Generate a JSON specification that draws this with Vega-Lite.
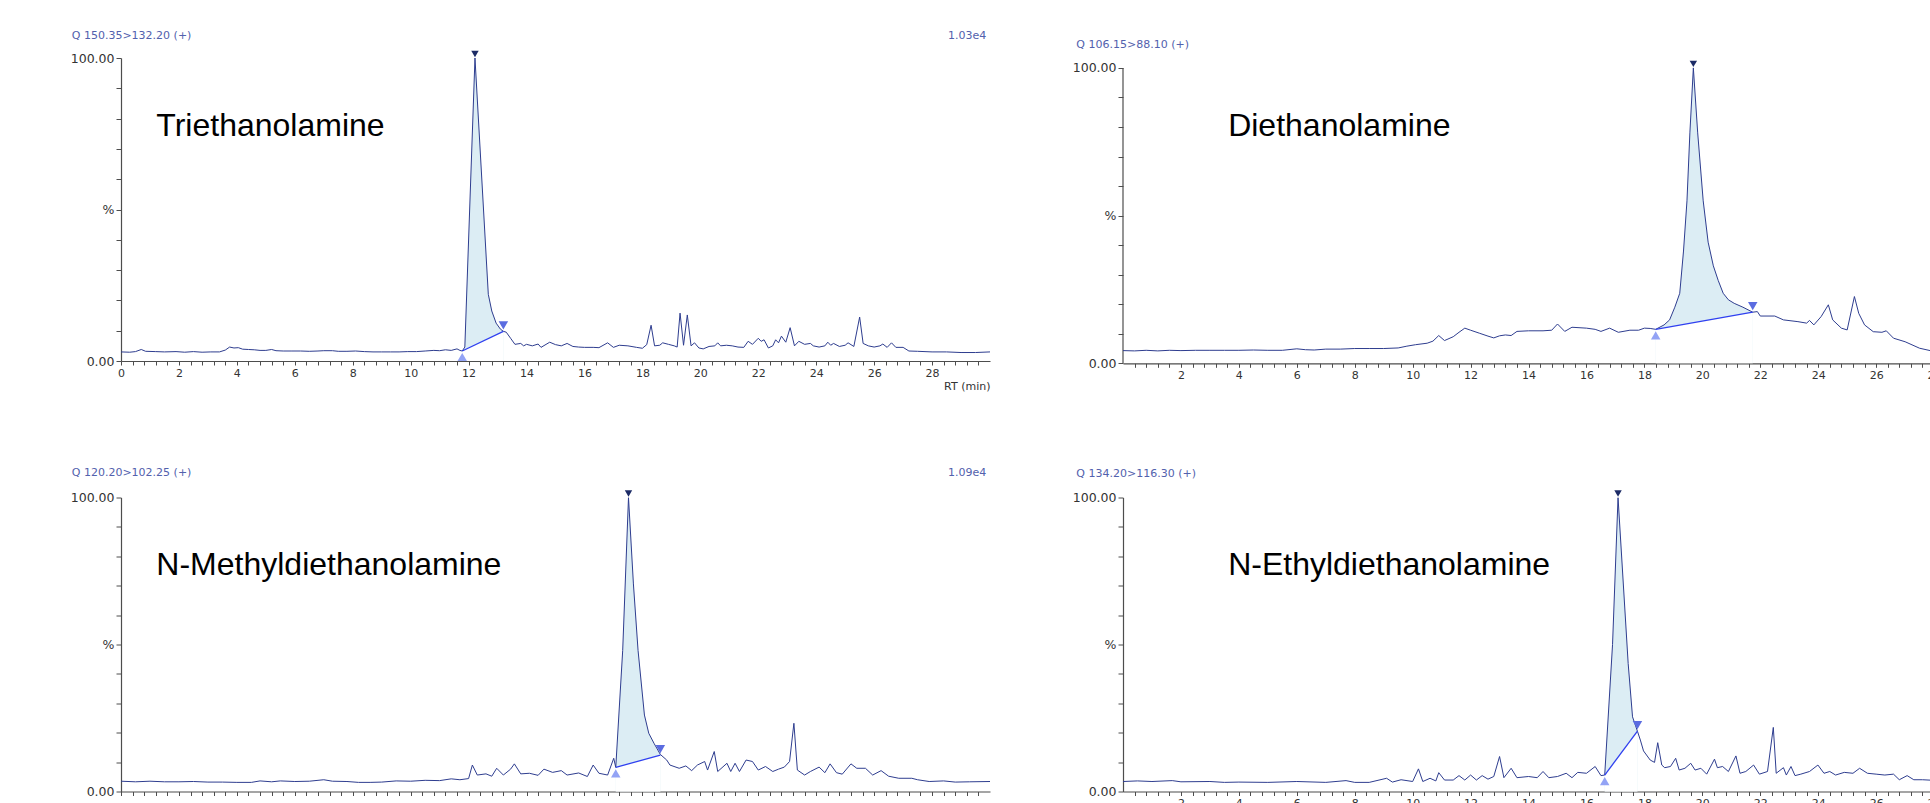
{
  "$schema": "https://vega.github.io/schema/vega-lite/v6.json",
  "background": "white",
  "padding": {"left": 70, "top": 29, "right": 0, "bottom": 0},
  "columns": 2,
  "bounds": "flush",
  "spacing": {"row": 133.5, "column": 133},
  "config": {
    "view": {"stroke": null},
    "font": "DejaVu Sans",
    "axis": {"grid": false, "domainColor": "#4d4d4d", "tickColor": "#4d4d4d", "domainWidth": 1.2, "tickWidth": 1, "labelFont": "DejaVu Sans", "labelFontSize": 11, "labelColor": "#333333", "titleFont": "DejaVu Sans", "titleFontSize": 11, "titleFontWeight": "normal", "titleColor": "#333333", "labelOverlap": false, "labelFlush": false, "zindex": 1, "tickCount": 200},
    "axisX": {"tickSize": 4, "labelPadding": 2},
    "axisY": {"tickSize": 5, "labelPadding": 2, "labelFontSize": 12.5}
  },
  "datasets": {
    "tea": [
      {"rt":0,"pct":3.0},{"rt":0.3,"pct":2.9},{"rt":0.5,"pct":3.1},{"rt":0.7,"pct":3.8},{"rt":0.85,"pct":3.2},{"rt":1.2,"pct":3.1},{"rt":1.5,"pct":3.0},{"rt":1.9,"pct":3.1},{"rt":2.2,"pct":2.9},{"rt":2.5,"pct":3.1},{"rt":2.8,"pct":2.9},{"rt":3.1,"pct":3.0},{"rt":3.4,"pct":3.0},{"rt":3.6,"pct":3.6},{"rt":3.75,"pct":4.6},{"rt":3.9,"pct":4.3},{"rt":4.05,"pct":4.4},{"rt":4.2,"pct":3.9},{"rt":4.4,"pct":3.8},{"rt":4.6,"pct":3.7},{"rt":4.8,"pct":3.5},{"rt":5.0,"pct":3.5},{"rt":5.2,"pct":3.8},{"rt":5.35,"pct":3.4},{"rt":5.6,"pct":3.3},{"rt":5.9,"pct":3.3},{"rt":6.2,"pct":3.3},{"rt":6.5,"pct":3.2},{"rt":6.8,"pct":3.3},{"rt":7.0,"pct":3.4},{"rt":7.3,"pct":3.4},{"rt":7.5,"pct":3.2},{"rt":7.8,"pct":3.2},{"rt":8.1,"pct":3.3},{"rt":8.4,"pct":3.1},{"rt":8.7,"pct":3.0},{"rt":9.0,"pct":3.0},{"rt":9.3,"pct":3.0},{"rt":9.6,"pct":3.0},{"rt":9.9,"pct":3.1},{"rt":10.2,"pct":3.1},{"rt":10.5,"pct":3.3},{"rt":10.8,"pct":3.5},{"rt":11.0,"pct":3.4},{"rt":11.2,"pct":3.7},{"rt":11.4,"pct":3.5},{"rt":11.6,"pct":4.0},{"rt":11.7,"pct":3.5},{"rt":11.78,"pct":3.3},{"rt":11.87,"pct":4.6},{"rt":12.22,"pct":100},{"rt":12.68,"pct":22},{"rt":12.8,"pct":16.5},{"rt":12.95,"pct":12.5},{"rt":13.1,"pct":10.5},{"rt":13.2,"pct":9.8},
      {"rt":13.3,"pct":9.5},{"rt":13.45,"pct":7.5},{"rt":13.6,"pct":5.5},{"rt":13.8,"pct":5.8},{"rt":13.9,"pct":5.0},{"rt":14.0,"pct":5.5},{"rt":14.2,"pct":5.0},{"rt":14.4,"pct":5.6},{"rt":14.5,"pct":4.5},{"rt":14.8,"pct":6.2},{"rt":15.0,"pct":5.4},{"rt":15.2,"pct":5.0},{"rt":15.4,"pct":5.8},{"rt":15.6,"pct":4.8},{"rt":15.8,"pct":4.6},{"rt":16.0,"pct":4.5},{"rt":16.3,"pct":4.5},{"rt":16.5,"pct":4.4},{"rt":16.8,"pct":6.0},{"rt":17.0,"pct":4.5},{"rt":17.2,"pct":5.2},{"rt":17.5,"pct":5.0},{"rt":17.8,"pct":4.5},{"rt":18.0,"pct":4.2},{"rt":18.15,"pct":5.4},{"rt":18.3,"pct":11.8},{"rt":18.42,"pct":5.0},{"rt":18.6,"pct":5.2},{"rt":18.7,"pct":6.0},{"rt":18.9,"pct":5.5},{"rt":19.1,"pct":5.0},{"rt":19.2,"pct":4.6},{"rt":19.3,"pct":15.8},{"rt":19.42,"pct":5.2},{"rt":19.55,"pct":15.2},{"rt":19.68,"pct":5.0},{"rt":19.8,"pct":6.0},{"rt":19.95,"pct":4.3},{"rt":20.1,"pct":4.0},{"rt":20.3,"pct":4.8},{"rt":20.5,"pct":5.0},{"rt":20.6,"pct":6.0},{"rt":20.7,"pct":5.0},{"rt":20.9,"pct":5.2},{"rt":21.1,"pct":5.0},{"rt":21.3,"pct":4.6},{"rt":21.5,"pct":4.5},{"rt":21.65,"pct":6.5},{"rt":21.8,"pct":5.5},{"rt":22.0,"pct":7.5},{"rt":22.1,"pct":6.5},{"rt":22.2,"pct":7.0},{"rt":22.35,"pct":4.3},{"rt":22.5,"pct":5.0},{"rt":22.6,"pct":7.0},{"rt":22.7,"pct":6.0},{"rt":22.8,"pct":8.2},{"rt":22.95,"pct":6.2},{"rt":23.1,"pct":11.0},{"rt":23.25,"pct":5.0},{"rt":23.4,"pct":6.5},{"rt":23.6,"pct":5.5},{"rt":23.8,"pct":5.8},{"rt":23.9,"pct":5.0},{"rt":24.1,"pct":4.6},{"rt":24.3,"pct":5.0},{"rt":24.4,"pct":6.2},{"rt":24.5,"pct":5.2},{"rt":24.6,"pct":5.8},{"rt":24.8,"pct":4.8},{"rt":25.0,"pct":5.2},{"rt":25.1,"pct":6.0},{"rt":25.3,"pct":4.8},{"rt":25.5,"pct":14.5},{"rt":25.62,"pct":5.8},{"rt":25.8,"pct":5.0},{"rt":26.0,"pct":4.6},{"rt":26.2,"pct":5.0},{"rt":26.3,"pct":5.6},{"rt":26.45,"pct":4.5},{"rt":26.6,"pct":6.0},{"rt":26.75,"pct":4.5},{"rt":27.0,"pct":4.5},{"rt":27.2,"pct":3.3},{"rt":27.5,"pct":3.2},{"rt":28.0,"pct":3.0},{"rt":28.5,"pct":3.0},{"rt":29.0,"pct":2.8},{"rt":29.5,"pct":2.8},{"rt":30.0,"pct":3.0}
    ],
    "tea_ev": [{"kind":"start","rt":11.78,"pct":3.3},{"kind":"apex","rt":12.22,"pct":100},{"kind":"end","rt":13.2,"pct":9.8}],
    "dea": [
      {"rt":0,"pct":4.3},{"rt":0.4,"pct":4.2},{"rt":0.8,"pct":4.4},{"rt":1.2,"pct":4.2},{"rt":1.6,"pct":4.4},{"rt":2.0,"pct":4.3},{"rt":2.5,"pct":4.4},{"rt":3.0,"pct":4.4},{"rt":3.5,"pct":4.4},{"rt":4.0,"pct":4.4},{"rt":4.5,"pct":4.5},{"rt":5.0,"pct":4.4},{"rt":5.5,"pct":4.4},{"rt":6.0,"pct":4.9},{"rt":6.3,"pct":4.6},{"rt":6.6,"pct":4.5},{"rt":7.0,"pct":4.8},{"rt":7.5,"pct":4.8},{"rt":8.0,"pct":5.0},{"rt":8.5,"pct":5.0},{"rt":9.0,"pct":5.0},{"rt":9.5,"pct":5.2},{"rt":9.8,"pct":5.8},{"rt":10.1,"pct":6.3},{"rt":10.5,"pct":6.8},{"rt":10.7,"pct":7.5},{"rt":10.9,"pct":9.4},{"rt":11.1,"pct":7.7},{"rt":11.4,"pct":9.0},{"rt":11.6,"pct":10.5},{"rt":11.8,"pct":11.9},{"rt":12.0,"pct":11.2},{"rt":12.3,"pct":10.2},{"rt":12.6,"pct":9.2},{"rt":12.8,"pct":8.6},{"rt":13.0,"pct":9.3},{"rt":13.2,"pct":9.6},{"rt":13.4,"pct":9.4},{"rt":13.6,"pct":10.8},{"rt":14.0,"pct":11.0},{"rt":14.5,"pct":11.0},{"rt":14.8,"pct":11.2},{"rt":15.0,"pct":13.3},{"rt":15.25,"pct":10.8},{"rt":15.5,"pct":12.2},{"rt":16.0,"pct":11.9},{"rt":16.3,"pct":11.5},{"rt":16.5,"pct":10.8},{"rt":16.8,"pct":11.9},{"rt":17.1,"pct":10.5},{"rt":17.5,"pct":11.2},{"rt":17.8,"pct":11.2},{"rt":18.0,"pct":11.9},{"rt":18.2,"pct":11.8},{"rt":18.39,"pct":11.5},{"rt":18.68,"pct":13.0},{"rt":18.87,"pct":14.7},{"rt":19.05,"pct":19.0},{"rt":19.22,"pct":23.7},{"rt":19.35,"pct":38},{"rt":19.47,"pct":55},{"rt":19.57,"pct":78},{"rt":19.69,"pct":100},{"rt":19.84,"pct":78},{"rt":20.03,"pct":55},{"rt":20.2,"pct":41},{"rt":20.38,"pct":33},{"rt":20.55,"pct":28},{"rt":20.72,"pct":23.7},{"rt":20.9,"pct":21.5},{"rt":21.1,"pct":20.3},{"rt":21.4,"pct":19.0},{"rt":21.74,"pct":17.3},{"rt":21.9,"pct":17.5},{"rt":22.0,"pct":16.0},{"rt":22.5,"pct":16.0},{"rt":22.8,"pct":14.7},{"rt":23.3,"pct":14.1},{"rt":23.6,"pct":13.6},{"rt":23.7,"pct":14.5},{"rt":23.85,"pct":13.0},{"rt":24.1,"pct":15.8},{"rt":24.35,"pct":19.8},{"rt":24.5,"pct":14.7},{"rt":24.8,"pct":11.9},{"rt":25.0,"pct":11.3},{"rt":25.25,"pct":22.6},{"rt":25.4,"pct":16.9},{"rt":25.6,"pct":13.0},{"rt":25.9,"pct":10.7},{"rt":26.2,"pct":10.5},{"rt":26.35,"pct":11.0},{"rt":26.6,"pct":8.5},{"rt":27.0,"pct":7.3},{"rt":27.5,"pct":5.1},{"rt":28.0,"pct":4.0},{"rt":28.5,"pct":3.5},{"rt":29.0,"pct":3.2},{"rt":30.0,"pct":3.0}
    ],
    "dea_ev": [{"kind":"start","rt":18.39,"pct":11.5},{"kind":"apex","rt":19.69,"pct":100},{"kind":"end","rt":21.74,"pct":17.3}],
    "mdea": [
      {"rt":0,"pct":3.5},{"rt":0.5,"pct":3.3},{"rt":1.0,"pct":3.5},{"rt":1.5,"pct":3.3},{"rt":2.0,"pct":3.3},{"rt":2.5,"pct":3.4},{"rt":3.0,"pct":3.2},{"rt":3.5,"pct":3.2},{"rt":4.0,"pct":3.1},{"rt":4.5,"pct":3.1},{"rt":4.8,"pct":3.6},{"rt":5.2,"pct":3.3},{"rt":5.5,"pct":3.6},{"rt":6.0,"pct":3.4},{"rt":6.5,"pct":3.5},{"rt":7.0,"pct":4.0},{"rt":7.3,"pct":3.5},{"rt":7.8,"pct":3.4},{"rt":8.2,"pct":3.1},{"rt":8.6,"pct":3.1},{"rt":9.0,"pct":3.2},{"rt":9.5,"pct":3.6},{"rt":10.0,"pct":3.5},{"rt":10.5,"pct":3.8},{"rt":11.0,"pct":3.7},{"rt":11.4,"pct":4.3},{"rt":11.7,"pct":4.0},{"rt":12.0,"pct":4.4},{"rt":12.13,"pct":9.0},{"rt":12.3,"pct":5.6},{"rt":12.6,"pct":6.0},{"rt":12.8,"pct":5.2},{"rt":12.97,"pct":7.9},{"rt":13.2,"pct":5.6},{"rt":13.45,"pct":7.6},{"rt":13.58,"pct":9.4},{"rt":13.8,"pct":6.0},{"rt":14.1,"pct":6.2},{"rt":14.4,"pct":5.5},{"rt":14.6,"pct":7.6},{"rt":14.9,"pct":6.5},{"rt":15.2,"pct":7.1},{"rt":15.4,"pct":5.6},{"rt":15.8,"pct":6.3},{"rt":16.1,"pct":5.1},{"rt":16.3,"pct":9.0},{"rt":16.5,"pct":6.2},{"rt":16.8,"pct":5.6},{"rt":17.01,"pct":11.3},{"rt":17.08,"pct":8.2},{"rt":17.32,"pct":48},{"rt":17.52,"pct":100},{"rt":17.69,"pct":70.6},{"rt":17.85,"pct":48},{"rt":18.07,"pct":26},{"rt":18.22,"pct":19.8},{"rt":18.4,"pct":16.4},{"rt":18.62,"pct":12.6},{"rt":18.84,"pct":10.7},{"rt":18.95,"pct":9.0},{"rt":19.27,"pct":7.9},{"rt":19.5,"pct":8.7},{"rt":19.7,"pct":7.1},{"rt":19.9,"pct":9.0},{"rt":20.15,"pct":10.2},{"rt":20.25,"pct":7.3},{"rt":20.48,"pct":13.6},{"rt":20.6,"pct":6.8},{"rt":20.92,"pct":9.6},{"rt":21.05,"pct":6.8},{"rt":21.2,"pct":9.6},{"rt":21.35,"pct":6.8},{"rt":21.58,"pct":10.7},{"rt":21.8,"pct":10.2},{"rt":22.0,"pct":7.3},{"rt":22.25,"pct":8.5},{"rt":22.5,"pct":6.8},{"rt":22.7,"pct":7.6},{"rt":22.9,"pct":8.3},{"rt":23.08,"pct":10.2},{"rt":23.23,"pct":23.2},{"rt":23.35,"pct":7.3},{"rt":23.6,"pct":5.6},{"rt":23.8,"pct":6.8},{"rt":24.1,"pct":8.3},{"rt":24.3,"pct":6.4},{"rt":24.48,"pct":9.4},{"rt":24.7,"pct":6.4},{"rt":24.9,"pct":5.9},{"rt":25.2,"pct":9.4},{"rt":25.4,"pct":7.9},{"rt":25.7,"pct":7.9},{"rt":25.95,"pct":5.6},{"rt":26.24,"pct":7.1},{"rt":26.5,"pct":5.2},{"rt":26.85,"pct":4.5},{"rt":27.3,"pct":4.5},{"rt":27.5,"pct":4.0},{"rt":27.9,"pct":3.4},{"rt":28.4,"pct":3.6},{"rt":28.8,"pct":3.2},{"rt":29.3,"pct":3.3},{"rt":30.0,"pct":3.4}
    ],
    "mdea_ev": [{"kind":"start","rt":17.08,"pct":8.2},{"kind":"apex","rt":17.52,"pct":100},{"kind":"end","rt":18.62,"pct":12.4}],
    "edea": [
      {"rt":0,"pct":3.4},{"rt":0.5,"pct":3.6},{"rt":1.0,"pct":3.4},{"rt":1.7,"pct":3.7},{"rt":2.0,"pct":3.3},{"rt":3.0,"pct":3.4},{"rt":3.5,"pct":3.1},{"rt":4.0,"pct":3.2},{"rt":5.0,"pct":3.1},{"rt":6.0,"pct":3.4},{"rt":7.0,"pct":3.1},{"rt":7.7,"pct":3.7},{"rt":8.0,"pct":3.1},{"rt":8.5,"pct":3.1},{"rt":9.1,"pct":4.5},{"rt":9.3,"pct":3.2},{"rt":9.6,"pct":4.0},{"rt":10.0,"pct":3.4},{"rt":10.2,"pct":7.7},{"rt":10.35,"pct":3.4},{"rt":10.6,"pct":4.5},{"rt":10.8,"pct":3.6},{"rt":10.9,"pct":6.4},{"rt":11.1,"pct":3.9},{"rt":11.4,"pct":3.9},{"rt":11.6,"pct":5.4},{"rt":11.8,"pct":3.9},{"rt":12.0,"pct":5.6},{"rt":12.2,"pct":3.9},{"rt":12.4,"pct":5.4},{"rt":12.6,"pct":4.2},{"rt":12.8,"pct":5.1},{"rt":13.0,"pct":11.9},{"rt":13.15,"pct":4.7},{"rt":13.4,"pct":7.9},{"rt":13.6,"pct":4.7},{"rt":14.0,"pct":5.1},{"rt":14.3,"pct":4.7},{"rt":14.5,"pct":6.8},{"rt":14.7,"pct":4.7},{"rt":15.0,"pct":5.1},{"rt":15.3,"pct":6.2},{"rt":15.5,"pct":4.7},{"rt":15.7,"pct":6.5},{"rt":16.0,"pct":6.2},{"rt":16.3,"pct":8.5},{"rt":16.5,"pct":5.4},{"rt":16.63,"pct":5.6},{"rt":16.9,"pct":50},{"rt":17.09,"pct":100},{"rt":17.44,"pct":43.5},{"rt":17.59,"pct":25.4},{"rt":17.76,"pct":20.5},{"rt":17.86,"pct":17.5},{"rt":17.97,"pct":13.8},{"rt":18.2,"pct":10.7},{"rt":18.35,"pct":9.9},{"rt":18.46,"pct":16.6},{"rt":18.6,"pct":9.0},{"rt":18.7,"pct":8.1},{"rt":18.9,"pct":8.5},{"rt":19.08,"pct":11.3},{"rt":19.2,"pct":7.3},{"rt":19.4,"pct":7.9},{"rt":19.6,"pct":9.6},{"rt":19.75,"pct":7.3},{"rt":19.95,"pct":7.9},{"rt":20.15,"pct":5.9},{"rt":20.42,"pct":11.0},{"rt":20.52,"pct":8.1},{"rt":20.7,"pct":8.5},{"rt":20.9,"pct":6.8},{"rt":21.16,"pct":12.1},{"rt":21.3,"pct":6.2},{"rt":21.5,"pct":6.8},{"rt":21.77,"pct":9.0},{"rt":21.97,"pct":5.9},{"rt":22.25,"pct":6.8},{"rt":22.45,"pct":21.8},{"rt":22.55,"pct":6.2},{"rt":22.8,"pct":8.1},{"rt":22.9,"pct":5.6},{"rt":23.06,"pct":8.5},{"rt":23.2,"pct":5.4},{"rt":23.4,"pct":5.9},{"rt":23.7,"pct":6.8},{"rt":23.99,"pct":9.0},{"rt":24.2,"pct":6.2},{"rt":24.4,"pct":6.8},{"rt":24.6,"pct":5.6},{"rt":24.9,"pct":6.5},{"rt":25.2,"pct":6.2},{"rt":25.43,"pct":7.9},{"rt":25.7,"pct":6.2},{"rt":26.0,"pct":5.9},{"rt":26.3,"pct":5.6},{"rt":26.6,"pct":5.9},{"rt":26.8,"pct":4.0},{"rt":27.07,"pct":5.4},{"rt":27.3,"pct":4.0},{"rt":27.6,"pct":4.0},{"rt":28.0,"pct":3.8},{"rt":29.0,"pct":3.6},{"rt":30.0,"pct":3.5}
    ],
    "edea_ev": [{"kind":"start","rt":16.63,"pct":5.6},{"kind":"apex","rt":17.09,"pct":100},{"kind":"end","rt":17.76,"pct":20.5}]
  },
  "concat": [
    {
      "width": 869, "height": 303,
      "layer": [
        {"data": {"name": "tea"}, "transform": [{"filter": "datum.rt >= 11.78 && datum.rt <= 13.2"}],
         "mark": {"type": "area", "color": "#dcedf4", "clip": true},
         "encoding": {
           "x": {"field": "rt", "type": "quantitative", "scale": {"domain": [0, 30], "nice": false, "zero": false},
                 "axis": {"title": "RT (min)", "titleAnchor": "end", "titlePadding": 2, "values": [0,0.4,0.8,1.2,1.6,2,2.4,2.8,3.2,3.6,4,4.4,4.8,5.2,5.6,6,6.4,6.8,7.2,7.6,8,8.4,8.8,9.2,9.6,10,10.4,10.8,11.2,11.6,12,12.4,12.8,13.2,13.6,14,14.4,14.8,15.2,15.6,16,16.4,16.8,17.2,17.6,18,18.4,18.8,19.2,19.6,20,20.4,20.8,21.2,21.6,22,22.4,22.8,23.2,23.6,24,24.4,24.8,25.2,25.6,26,26.4,26.8,27.2,27.6,28,28.4,28.8,29.2,29.6], "labelExpr": "datum.value % 2 == 0 ? format(datum.value, 'd') : ''"}},
           "y": {"field": "pct", "type": "quantitative", "scale": {"domain": [0, 100], "nice": false},
                 "axis": {"title": null, "values": [0,10,20,30,40,50,60,70,80,90,100], "labelExpr": "datum.value == 100 ? '100.00' : datum.value == 50 ? '%' : datum.value == 0 ? '0.00' : ''"}},
           "y2": {"datum": 0}
         }},
        {"data": {"name": "tea_ev"}, "transform": [{"filter": "datum.kind != 'apex'"}],
         "mark": {"type": "area", "color": "white"},
         "encoding": {"x": {"field": "rt", "type": "quantitative"}, "y": {"field": "pct", "type": "quantitative"}, "y2": {"datum": 0}}},
        {"data": {"name": "tea"}, "mark": {"type": "line", "color": "#2e3d8f", "strokeWidth": 1, "clip": true},
         "encoding": {"x": {"field": "rt", "type": "quantitative"}, "y": {"field": "pct", "type": "quantitative"}}},
        {"data": {"name": "tea_ev"}, "transform": [{"filter": "datum.kind != 'apex'"}],
         "mark": {"type": "line", "color": "#2f40f0", "strokeWidth": 1.3},
         "encoding": {"x": {"field": "rt", "type": "quantitative"}, "y": {"field": "pct", "type": "quantitative"}}},
        {"data": {"name": "tea_ev"}, "transform": [{"filter": "datum.kind == 'apex'"}],
         "mark": {"type": "point", "shape": "triangle-down", "filled": true, "color": "#1c2b66", "opacity": 1, "size": 55, "yOffset": -4},
         "encoding": {"x": {"field": "rt", "type": "quantitative"}, "y": {"field": "pct", "type": "quantitative"}}},
        {"data": {"name": "tea_ev"}, "transform": [{"filter": "datum.kind == 'start'"}],
         "mark": {"type": "point", "shape": "triangle-up", "filled": true, "color": "#93a3f5", "opacity": 1, "size": 90, "yOffset": 6},
         "encoding": {"x": {"field": "rt", "type": "quantitative"}, "y": {"field": "pct", "type": "quantitative"}}},
        {"data": {"name": "tea_ev"}, "transform": [{"filter": "datum.kind == 'end'"}],
         "mark": {"type": "point", "shape": "triangle-down", "filled": true, "color": "#5b6ce0", "opacity": 1, "size": 90, "yOffset": -6},
         "encoding": {"x": {"field": "rt", "type": "quantitative"}, "y": {"field": "pct", "type": "quantitative"}}},
        {"data": {"values": [{}]},
         "mark": {"type": "text", "text": "Triethanolamine", "align": "left", "baseline": "middle", "font": "Liberation Sans", "fontSize": 32, "color": "#000000"},
         "encoding": {"x": {"datum": 1.22}, "y": {"datum": 77.7}}},
        {"data": {"values": [{}]},
         "mark": {"type": "text", "text": "Q 150.35>132.20 (+)", "align": "left", "baseline": "middle", "font": "DejaVu Sans", "fontSize": 11, "color": "#5261ad"},
         "encoding": {"x": {"datum": -1.7}, "y": {"datum": 107.3}}},
        {"data": {"values": [{}]},
         "mark": {"type": "text", "text": "1.03e4", "align": "right", "baseline": "middle", "font": "DejaVu Sans", "fontSize": 11, "color": "#5261ad"},
         "encoding": {"x": {"datum": 29.87}, "y": {"datum": 107.3}}}
      ]
    },
    {
      "width": 869, "height": 305.3,
      "layer": [
        {"data": {"name": "dea"}, "transform": [{"filter": "datum.rt >= 18.39 && datum.rt <= 21.74"}],
         "mark": {"type": "area", "color": "#dcedf4", "clip": true},
         "encoding": {
           "x": {"field": "rt", "type": "quantitative", "scale": {"domain": [0, 30], "nice": false, "zero": false},
                 "axis": {"title": "RT (min)", "titleAnchor": "end", "titlePadding": 2, "values": [0.4,0.8,1.2,1.6,2,2.4,2.8,3.2,3.6,4,4.4,4.8,5.2,5.6,6,6.4,6.8,7.2,7.6,8,8.4,8.8,9.2,9.6,10,10.4,10.8,11.2,11.6,12,12.4,12.8,13.2,13.6,14,14.4,14.8,15.2,15.6,16,16.4,16.8,17.2,17.6,18,18.4,18.8,19.2,19.6,20,20.4,20.8,21.2,21.6,22,22.4,22.8,23.2,23.6,24,24.4,24.8,25.2,25.6,26,26.4,26.8,27.2,27.6,28,28.4,28.8,29.2,29.6], "labelExpr": "datum.value % 2 == 0 ? format(datum.value, 'd') : ''"}},
           "y": {"field": "pct", "type": "quantitative", "scale": {"domain": [0, 103.35], "nice": false},
                 "axis": {"title": null, "domain": false, "values": [0,10,20,30,40,50,60,70,80,90,100], "labelExpr": "datum.value == 100 ? '100.00' : datum.value == 50 ? '%' : datum.value == 0 ? '0.00' : ''"}},
           "y2": {"datum": 0}
         }},
        {"data": {"name": "dea_ev"}, "transform": [{"filter": "datum.kind != 'apex'"}],
         "mark": {"type": "area", "color": "white"},
         "encoding": {"x": {"field": "rt", "type": "quantitative"}, "y": {"field": "pct", "type": "quantitative"}, "y2": {"datum": 0}}},
        {"data": {"values": [{}]}, "mark": {"type": "rule", "color": "#4d4d4d", "strokeWidth": 1.2},
         "encoding": {"x": {"datum": 0}, "y": {"datum": 0}, "y2": {"datum": 100}}},
        {"data": {"name": "dea"}, "mark": {"type": "line", "color": "#2e3d8f", "strokeWidth": 1, "clip": true},
         "encoding": {"x": {"field": "rt", "type": "quantitative"}, "y": {"field": "pct", "type": "quantitative"}}},
        {"data": {"name": "dea_ev"}, "transform": [{"filter": "datum.kind != 'apex'"}],
         "mark": {"type": "line", "color": "#2f40f0", "strokeWidth": 1.3},
         "encoding": {"x": {"field": "rt", "type": "quantitative"}, "y": {"field": "pct", "type": "quantitative"}}},
        {"data": {"name": "dea_ev"}, "transform": [{"filter": "datum.kind == 'apex'"}],
         "mark": {"type": "point", "shape": "triangle-down", "filled": true, "color": "#1c2b66", "opacity": 1, "size": 55, "yOffset": -4},
         "encoding": {"x": {"field": "rt", "type": "quantitative"}, "y": {"field": "pct", "type": "quantitative"}}},
        {"data": {"name": "dea_ev"}, "transform": [{"filter": "datum.kind == 'start'"}],
         "mark": {"type": "point", "shape": "triangle-up", "filled": true, "color": "#93a3f5", "opacity": 1, "size": 90, "yOffset": 6},
         "encoding": {"x": {"field": "rt", "type": "quantitative"}, "y": {"field": "pct", "type": "quantitative"}}},
        {"data": {"name": "dea_ev"}, "transform": [{"filter": "datum.kind == 'end'"}],
         "mark": {"type": "point", "shape": "triangle-down", "filled": true, "color": "#5b6ce0", "opacity": 1, "size": 90, "yOffset": -6},
         "encoding": {"x": {"field": "rt", "type": "quantitative"}, "y": {"field": "pct", "type": "quantitative"}}},
        {"data": {"values": [{}]},
         "mark": {"type": "text", "text": "Diethanolamine", "align": "left", "baseline": "middle", "font": "Liberation Sans", "fontSize": 32, "color": "#000000"},
         "encoding": {"x": {"datum": 3.63}, "y": {"datum": 80.4}}},
        {"data": {"values": [{}]},
         "mark": {"type": "text", "text": "Q 106.15>88.10 (+)", "align": "left", "baseline": "middle", "font": "DejaVu Sans", "fontSize": 11, "color": "#5261ad"},
         "encoding": {"x": {"datum": -1.61}, "y": {"datum": 107.9}}}
      ]
    },
    {
      "width": 869, "height": 294,
      "layer": [
        {"data": {"name": "mdea"}, "transform": [{"filter": "datum.rt >= 17.08 && datum.rt <= 18.62"}],
         "mark": {"type": "area", "color": "#dcedf4", "clip": true},
         "encoding": {
           "x": {"field": "rt", "type": "quantitative", "scale": {"domain": [0, 30], "nice": false, "zero": false},
                 "axis": {"title": "RT (min)", "titleAnchor": "end", "titlePadding": 2, "labelPadding": 8, "values": [0,0.4,0.8,1.2,1.6,2,2.4,2.8,3.2,3.6,4,4.4,4.8,5.2,5.6,6,6.4,6.8,7.2,7.6,8,8.4,8.8,9.2,9.6,10,10.4,10.8,11.2,11.6,12,12.4,12.8,13.2,13.6,14,14.4,14.8,15.2,15.6,16,16.4,16.8,17.2,17.6,18,18.4,18.8,19.2,19.6,20,20.4,20.8,21.2,21.6,22,22.4,22.8,23.2,23.6,24,24.4,24.8,25.2,25.6,26,26.4,26.8,27.2,27.6,28,28.4,28.8,29.2,29.6], "labelExpr": "datum.value % 2 == 0 ? format(datum.value, 'd') : ''"}},
           "y": {"field": "pct", "type": "quantitative", "scale": {"domain": [0, 100], "nice": false},
                 "axis": {"title": null, "values": [0,10,20,30,40,50,60,70,80,90,100], "labelExpr": "datum.value == 100 ? '100.00' : datum.value == 50 ? '%' : datum.value == 0 ? '0.00' : ''"}},
           "y2": {"datum": 0}
         }},
        {"data": {"name": "mdea_ev"}, "transform": [{"filter": "datum.kind != 'apex'"}],
         "mark": {"type": "area", "color": "white"},
         "encoding": {"x": {"field": "rt", "type": "quantitative"}, "y": {"field": "pct", "type": "quantitative"}, "y2": {"datum": 0}}},
        {"data": {"name": "mdea"}, "mark": {"type": "line", "color": "#2e3d8f", "strokeWidth": 1, "clip": true},
         "encoding": {"x": {"field": "rt", "type": "quantitative"}, "y": {"field": "pct", "type": "quantitative"}}},
        {"data": {"name": "mdea_ev"}, "transform": [{"filter": "datum.kind != 'apex'"}],
         "mark": {"type": "line", "color": "#2f40f0", "strokeWidth": 1.3},
         "encoding": {"x": {"field": "rt", "type": "quantitative"}, "y": {"field": "pct", "type": "quantitative"}}},
        {"data": {"name": "mdea_ev"}, "transform": [{"filter": "datum.kind == 'apex'"}],
         "mark": {"type": "point", "shape": "triangle-down", "filled": true, "color": "#1c2b66", "opacity": 1, "size": 55, "yOffset": -4},
         "encoding": {"x": {"field": "rt", "type": "quantitative"}, "y": {"field": "pct", "type": "quantitative"}}},
        {"data": {"name": "mdea_ev"}, "transform": [{"filter": "datum.kind == 'start'"}],
         "mark": {"type": "point", "shape": "triangle-up", "filled": true, "color": "#93a3f5", "opacity": 1, "size": 90, "yOffset": 6},
         "encoding": {"x": {"field": "rt", "type": "quantitative"}, "y": {"field": "pct", "type": "quantitative"}}},
        {"data": {"name": "mdea_ev"}, "transform": [{"filter": "datum.kind == 'end'"}],
         "mark": {"type": "point", "shape": "triangle-down", "filled": true, "color": "#5b6ce0", "opacity": 1, "size": 90, "yOffset": -6},
         "encoding": {"x": {"field": "rt", "type": "quantitative"}, "y": {"field": "pct", "type": "quantitative"}}},
        {"data": {"values": [{}]},
         "mark": {"type": "text", "text": "N-Methyldiethanolamine", "align": "left", "baseline": "middle", "font": "Liberation Sans", "fontSize": 32, "color": "#000000"},
         "encoding": {"x": {"datum": 1.22}, "y": {"datum": 77.0}}},
        {"data": {"values": [{}]},
         "mark": {"type": "text", "text": "Q 120.20>102.25 (+)", "align": "left", "baseline": "middle", "font": "DejaVu Sans", "fontSize": 11, "color": "#5261ad"},
         "encoding": {"x": {"datum": -1.7}, "y": {"datum": 108.4}}},
        {"data": {"values": [{}]},
         "mark": {"type": "text", "text": "1.09e4", "align": "right", "baseline": "middle", "font": "DejaVu Sans", "fontSize": 11, "color": "#5261ad"},
         "encoding": {"x": {"datum": 29.87}, "y": {"datum": 108.4}}}
      ]
    },
    {
      "width": 869, "height": 294,
      "layer": [
        {"data": {"name": "edea"}, "transform": [{"filter": "datum.rt >= 16.63 && datum.rt <= 17.76"}],
         "mark": {"type": "area", "color": "#dcedf4", "clip": true},
         "encoding": {
           "x": {"field": "rt", "type": "quantitative", "scale": {"domain": [0, 30], "nice": false, "zero": false},
                 "axis": {"title": "RT (min)", "titleAnchor": "end", "titlePadding": 2, "values": [0.4,0.8,1.2,1.6,2,2.4,2.8,3.2,3.6,4,4.4,4.8,5.2,5.6,6,6.4,6.8,7.2,7.6,8,8.4,8.8,9.2,9.6,10,10.4,10.8,11.2,11.6,12,12.4,12.8,13.2,13.6,14,14.4,14.8,15.2,15.6,16,16.4,16.8,17.2,17.6,18,18.4,18.8,19.2,19.6,20,20.4,20.8,21.2,21.6,22,22.4,22.8,23.2,23.6,24,24.4,24.8,25.2,25.6,26,26.4,26.8,27.2,27.6,28,28.4,28.8,29.2,29.6], "labelExpr": "datum.value % 2 == 0 ? format(datum.value, 'd') : ''"}},
           "y": {"field": "pct", "type": "quantitative", "scale": {"domain": [0, 100], "nice": false},
                 "axis": {"title": null, "values": [0,10,20,30,40,50,60,70,80,90,100], "labelExpr": "datum.value == 100 ? '100.00' : datum.value == 50 ? '%' : datum.value == 0 ? '0.00' : ''"}},
           "y2": {"datum": 0}
         }},
        {"data": {"name": "edea_ev"}, "transform": [{"filter": "datum.kind != 'apex'"}],
         "mark": {"type": "area", "color": "white"},
         "encoding": {"x": {"field": "rt", "type": "quantitative"}, "y": {"field": "pct", "type": "quantitative"}, "y2": {"datum": 0}}},
        {"data": {"name": "edea"}, "mark": {"type": "line", "color": "#2e3d8f", "strokeWidth": 1, "clip": true},
         "encoding": {"x": {"field": "rt", "type": "quantitative"}, "y": {"field": "pct", "type": "quantitative"}}},
        {"data": {"name": "edea_ev"}, "transform": [{"filter": "datum.kind != 'apex'"}],
         "mark": {"type": "line", "color": "#2f40f0", "strokeWidth": 1.3},
         "encoding": {"x": {"field": "rt", "type": "quantitative"}, "y": {"field": "pct", "type": "quantitative"}}},
        {"data": {"name": "edea_ev"}, "transform": [{"filter": "datum.kind == 'apex'"}],
         "mark": {"type": "point", "shape": "triangle-down", "filled": true, "color": "#1c2b66", "opacity": 1, "size": 55, "yOffset": -4},
         "encoding": {"x": {"field": "rt", "type": "quantitative"}, "y": {"field": "pct", "type": "quantitative"}}},
        {"data": {"name": "edea_ev"}, "transform": [{"filter": "datum.kind == 'start'"}],
         "mark": {"type": "point", "shape": "triangle-up", "filled": true, "color": "#93a3f5", "opacity": 1, "size": 90, "yOffset": 6},
         "encoding": {"x": {"field": "rt", "type": "quantitative"}, "y": {"field": "pct", "type": "quantitative"}}},
        {"data": {"name": "edea_ev"}, "transform": [{"filter": "datum.kind == 'end'"}],
         "mark": {"type": "point", "shape": "triangle-down", "filled": true, "color": "#5b6ce0", "opacity": 1, "size": 90, "yOffset": -6},
         "encoding": {"x": {"field": "rt", "type": "quantitative"}, "y": {"field": "pct", "type": "quantitative"}}},
        {"data": {"values": [{}]},
         "mark": {"type": "text", "text": "N-Ethyldiethanolamine", "align": "left", "baseline": "middle", "font": "Liberation Sans", "fontSize": 32, "color": "#000000"},
         "encoding": {"x": {"datum": 3.63}, "y": {"datum": 76.9}}},
        {"data": {"values": [{}]},
         "mark": {"type": "text", "text": "Q 134.20>116.30 (+)", "align": "left", "baseline": "middle", "font": "DejaVu Sans", "fontSize": 11, "color": "#5261ad"},
         "encoding": {"x": {"datum": -1.61}, "y": {"datum": 108}}}
      ]
    }
  ]
}
